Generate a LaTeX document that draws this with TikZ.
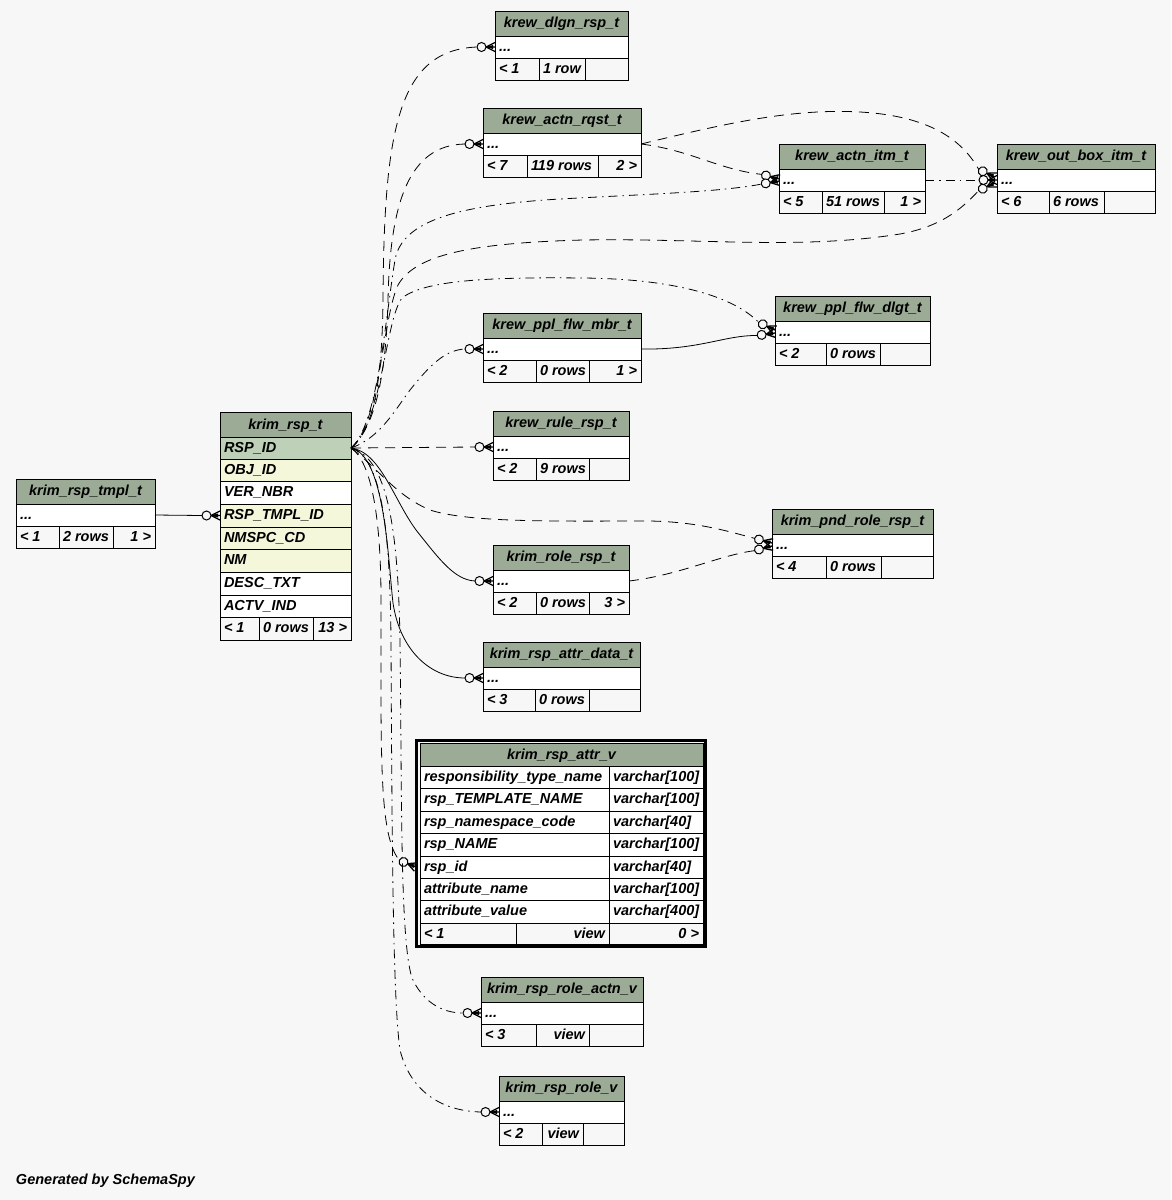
\documentclass[tikz,border=0pt]{standalone}
\usepackage{fontspec}
\setmainfont{Liberation Sans}
\usetikzlibrary{calc}
\definecolor{bg}{HTML}{F7F7F7}
\definecolor{hdr}{HTML}{9BAB96}
\definecolor{keyc}{HTML}{BED1B8}
\definecolor{idx}{HTML}{F4F7DA}
\tikzset{
 cellbox/.style={draw=black, line width=1pt, anchor=north west, inner sep=0pt, outer sep=0pt},
 txt/.style={font=\bfseries\itshape\fontsize{14.5}{16}\selectfont, inner sep=0pt, outer sep=0pt, text=black},
 conn/.style={line width=0.8pt, draw=black},
 dashE/.style={dash pattern=on 10pt off 7pt},
 dotE/.style={dash pattern=on 9pt off 5pt on 1.5pt off 5pt},
}
\newcommand\cellat[6]{\node[cellbox, fill=#6, minimum width={((#4)-(#2))*1pt}, minimum height={((#5)-(#3))*1pt}] (#1) at ({#2},{#3}) {};}
\newcommand\TxL[4]{\node[txt, anchor=base west] (#1) at ({(#2)+4},{#3}) {#4};}
\newcommand\TxR[4]{\node[txt, anchor=base east] (#1) at ({(#2)-4},{#3}) {#4};}
\newcommand\TxC[4]{\node[txt, anchor=base] (#1) at ({#2},{#3}) {#4};}
% name, x1, x2, ytop, title, d1, d2, foot1, foot2
\newcommand\smalltbl[9]{%
 \cellat{#1-h}{#2}{#4}{#3}{#4+25}{hdr}%
 \TxC{#1-title}{((#2)+(#3))/2}{#4+16.5}{#5}%
 \cellat{#1}{#2}{#4+25}{#3}{#4+47}{white}%
 \TxL{#1-dots}{#2}{#4+40}{...}%
 \cellat{#1-f1}{#2}{#4+47}{#6}{#4+69.5}{bg}%
 \cellat{#1-f2}{#6}{#4+47}{#7}{#4+69.5}{bg}%
 \cellat{#1-f3}{#7}{#4+47}{#3}{#4+69.5}{bg}%
 \TxL{#1-ft1}{#2}{#4+62.5}{#8}%
 \TxL{#1-ft2}{#6}{#4+62.5}{#9}%
}
\newcommand\rsprow[5]{\cellat{#1}{220}{#2}{351}{#3}{#4}\TxL{#1-txt}{220}{#2+15.5}{#5}}
\newcommand\avrow[5]{\cellat{#1}{420}{#2}{609}{#3}{white}\cellat{#1-ty}{609}{#2}{703}{#3}{white}\TxL{#1-txt}{420}{#2+15}{#4}\TxL{#1-tyt}{609}{#2+15}{#5}}
% zero-or-many marker: name, edge point, rotation
\newcommand\zmany[3]{%
 \coordinate (#1) at (#2);
 \begin{scope}[shift={(#1)}, rotate=#3]
  \draw[line width=1pt, fill=bg] (-13.5,0) circle[radius=4.5pt];
  \draw[line width=1.3pt] (-9,0) -- (0,-4.5) (-9,0) -- (0,0) (-9,0) -- (0,4.5);
  \fill (-9,0) -- (-2,-2) -- (-2,2) -- cycle;
  \coordinate (#1-end) at (-18,0);
 \end{scope}}
\begin{document}
\begin{tikzpicture}[x=1pt,y=-1pt]
\path[fill=bg] (0,0) rectangle (1171,1200);
\useasboundingbox (0,0) rectangle (1171,1200);

% ---------- tables ----------
\smalltbl{tmpl}{16}{155}{479}{krim\_rsp\_tmpl\_t}{59}{113}{< 1}{2 rows}
\TxR{tmpl-ft3}{155}{479+62.5}{1 >}

\smalltbl{dlgn}{495}{628}{11}{krew\_dlgn\_rsp\_t}{539}{585}{< 1}{1 row}
\smalltbl{rqst}{483}{641}{108}{krew\_actn\_rqst\_t}{527}{598}{< 7}{119 rows}
\TxR{rqst-ft3}{641}{108+62.5}{2 >}
\smalltbl{itm}{779}{925}{144}{krew\_actn\_itm\_t}{822}{884}{< 5}{51 rows}
\TxR{itm-ft3}{925}{144+62.5}{1 >}
\smalltbl{obox}{997}{1155}{144}{krew\_out\_box\_itm\_t}{1049}{1104}{< 6}{6 rows}
\smalltbl{dlgt}{775}{930}{296}{krew\_ppl\_flw\_dlgt\_t}{826}{880}{< 2}{0 rows}
\smalltbl{mbr}{483}{641}{313}{krew\_ppl\_flw\_mbr\_t}{536}{589}{< 2}{0 rows}
\TxR{mbr-ft3}{641}{313+62.5}{1 >}
\smalltbl{rule}{493}{629}{411}{krew\_rule\_rsp\_t}{536}{589}{< 2}{9 rows}
\smalltbl{pnd}{772}{933}{509}{krim\_pnd\_role\_rsp\_t}{826}{881}{< 4}{0 rows}
\smalltbl{role}{493}{629}{545}{krim\_role\_rsp\_t}{536}{589}{< 2}{0 rows}
\TxR{role-ft3}{629}{545+62.5}{3 >}
\smalltbl{ad}{483}{640}{642}{krim\_rsp\_attr\_data\_t}{535}{589}{< 3}{0 rows}
\smalltbl{ra}{481}{643}{977}{krim\_rsp\_role\_actn\_v}{536}{589}{< 3}{}
\TxR{ra-view}{589}{977+62.5}{view}
\smalltbl{rv}{499}{624}{1076}{krim\_rsp\_role\_v}{542}{583}{< 2}{}
\TxR{rv-view}{583}{1076+62.5}{view}

% krim_rsp_t
\cellat{rsp-h}{220}{412}{351}{437}{hdr}
\TxC{rsp-title}{285.5}{429}{krim\_rsp\_t}
\rsprow{rsp-id}{437}{459}{keyc}{RSP\_ID}
\rsprow{rsp-obj}{459}{481}{idx}{OBJ\_ID}
\rsprow{rsp-ver}{481}{504}{white}{VER\_NBR}
\rsprow{rsp-tmpl}{504}{527}{idx}{RSP\_TMPL\_ID}
\rsprow{rsp-ns}{527}{549}{idx}{NMSPC\_CD}
\rsprow{rsp-nm}{549}{572}{idx}{NM}
\rsprow{rsp-desc}{572}{595}{white}{DESC\_TXT}
\rsprow{rsp-actv}{595}{617}{white}{ACTV\_IND}
\cellat{rsp-f1}{220}{617}{259}{640}{bg}
\cellat{rsp-f2}{259}{617}{313}{640}{bg}
\cellat{rsp-f3}{313}{617}{351}{640}{bg}
\TxL{rsp-ft1}{220}{632.5}{< 1}
\TxL{rsp-ft2}{259}{632.5}{0 rows}
\TxR{rsp-ft3}{351}{632.5}{13 >}

% krim_rsp_attr_v
\draw[line width=3pt] (416.5,740.5) rectangle (705.5,946.5);
\cellat{av-h}{420}{743}{703}{766}{hdr}
\TxC{av-title}{561.5}{759.5}{krim\_rsp\_attr\_v}
\avrow{av-rtn}{766}{788.5}{responsibility\_type\_name}{varchar[100]}
\avrow{av-rtmn}{788.5}{811}{rsp\_TEMPLATE\_NAME}{varchar[100]}
\avrow{av-rnc}{811}{833.5}{rsp\_namespace\_code}{varchar[40]}
\avrow{av-rn}{833.5}{856}{rsp\_NAME}{varchar[100]}
\avrow{av-rspid}{856}{878}{rsp\_id}{varchar[40]}
\avrow{av-an}{878}{900.5}{attribute\_name}{varchar[100]}
\avrow{av-av}{900.5}{923}{attribute\_value}{varchar[400]}
\cellat{av-f1}{420}{923}{516}{944.5}{bg}
\cellat{av-f2}{516}{923}{609}{944.5}{bg}
\cellat{av-f3}{609}{923}{703}{944.5}{bg}
\TxL{av-ft1}{420}{938}{< 1}
\TxR{av-ft2}{609}{938}{view}
\TxR{av-ft3}{703}{938}{0 >}

% ---------- markers ----------
\zmany{m-tmpl}{rsp-tmpl.west}{0}
\zmany{m-dlgn}{dlgn.west}{0}
\zmany{m-rqst}{rqst.west}{0}
\zmany{m-itm1}{779,179}{-15}
\zmany{m-itm2}{779,181}{10}
\zmany{m-ob1}{995,177}{-25}
\zmany{m-ob2}{obox.west}{0}
\zmany{m-ob3}{995,183}{25}
\zmany{m-dl1}{775,330}{-25}
\zmany{m-dl2}{775,333}{8}
\zmany{m-mbr}{mbr.west}{0}
\zmany{m-rule}{rule.west}{0}
\zmany{m-pnd1}{772,543}{-15}
\zmany{m-pnd2}{772,546}{15}
\zmany{m-role}{role.west}{0}
\zmany{m-ad}{ad.west}{0}
\zmany{m-av}{$(av-rspid.west)+(-4,0)$}{-22}
\zmany{m-ra}{ra.west}{0}
\zmany{m-rv}{rv.west}{0}

% ---------- connectors ----------
\draw[conn] (tmpl.east) -- (m-tmpl-end);
\draw[conn, dashE] (rsp-id.east) .. controls (372,430) and (382,390) .. (383,300) .. controls (384,130) and (398,50) .. (m-dlgn-end);
\draw[conn, dashE] (rsp-id.east) .. controls (374,428) and (386,380) .. (388,300) .. controls (390,200) and (410,145) .. (m-rqst-end);
\draw[conn, dotE] (rsp-id.east) .. controls (378,425) and (385,320) .. (395,260) .. controls (402,220) and (460,205) .. (560,199) .. controls (650,194) and (720,192) .. (m-itm2-end);
\draw[conn, dashE] (rsp-id.east) .. controls (380,425) and (382,320) .. (398,285) .. controls (415,255) and (470,243) .. (583,240) .. controls (700,238) and (800,250) .. (900,234) .. controls (945,226) and (965,205) .. (m-ob3-end);
\draw[conn, dotE] (rsp-id.east) .. controls (382,425) and (385,320) .. (402,298) .. controls (425,280) and (490,277) .. (583,278) .. controls (680,279) and (735,298) .. (m-dl1-end);
\draw[conn, dotE] (rsp-id.east) .. controls (380,438) and (395,410) .. (410,390) .. controls (430,365) and (445,350) .. (m-mbr-end);
\draw[conn, dashE] (rsp-id.east) -- (m-rule-end);
\draw[conn, dashE] (rsp-id.east) .. controls (380,470) and (395,495) .. (430,510) .. controls (470,523) and (560,521) .. (650,521) .. controls (700,522) and (730,532) .. (m-pnd1-end);
\draw[conn] (rsp-id.east) .. controls (382,452) and (395,505) .. (420,535) .. controls (440,560) and (455,580) .. (m-role-end);
\draw[conn] (rsp-id.east) .. controls (385,455) and (388,560) .. (393,603) .. controls (400,650) and (430,678) .. (m-ad-end);
\draw[conn, dashE] (rsp-id.east) .. controls (372,462) and (381,520) .. (381,600) .. controls (381,760) and (379,835) .. (m-av-end);
\draw[conn, dotE] (rsp-id.east) .. controls (388,458) and (398,530) .. (400,640) .. controls (402,800) and (400,940) .. (412,978) .. controls (422,1000) and (440,1013) .. (m-ra-end);
\draw[conn, dotE] (rsp-id.east) .. controls (382,458) and (390,530) .. (391,640) .. controls (392,850) and (393,1000) .. (400,1050) .. controls (410,1090) and (440,1111) .. (m-rv-end);
\draw[conn, dashE] (rqst.east) .. controls (690,150) and (720,170) .. (m-itm1-end);
\draw[conn, dashE] (rqst.east) .. controls (720,125) and (790,108) .. (860,112) .. controls (930,116) and (962,140) .. (m-ob1-end);
\draw[conn, dotE] (itm.east) -- (m-ob2-end);
\draw[conn] (mbr.east) .. controls (700,350) and (725,335) .. (m-dl2-end);
\draw[conn, dashE] (role.east) .. controls (680,575) and (720,555) .. (m-pnd2-end);

\node[txt, anchor=base west] (gen) at (16,1184) {Generated by SchemaSpy};
\end{tikzpicture}
\end{document}
